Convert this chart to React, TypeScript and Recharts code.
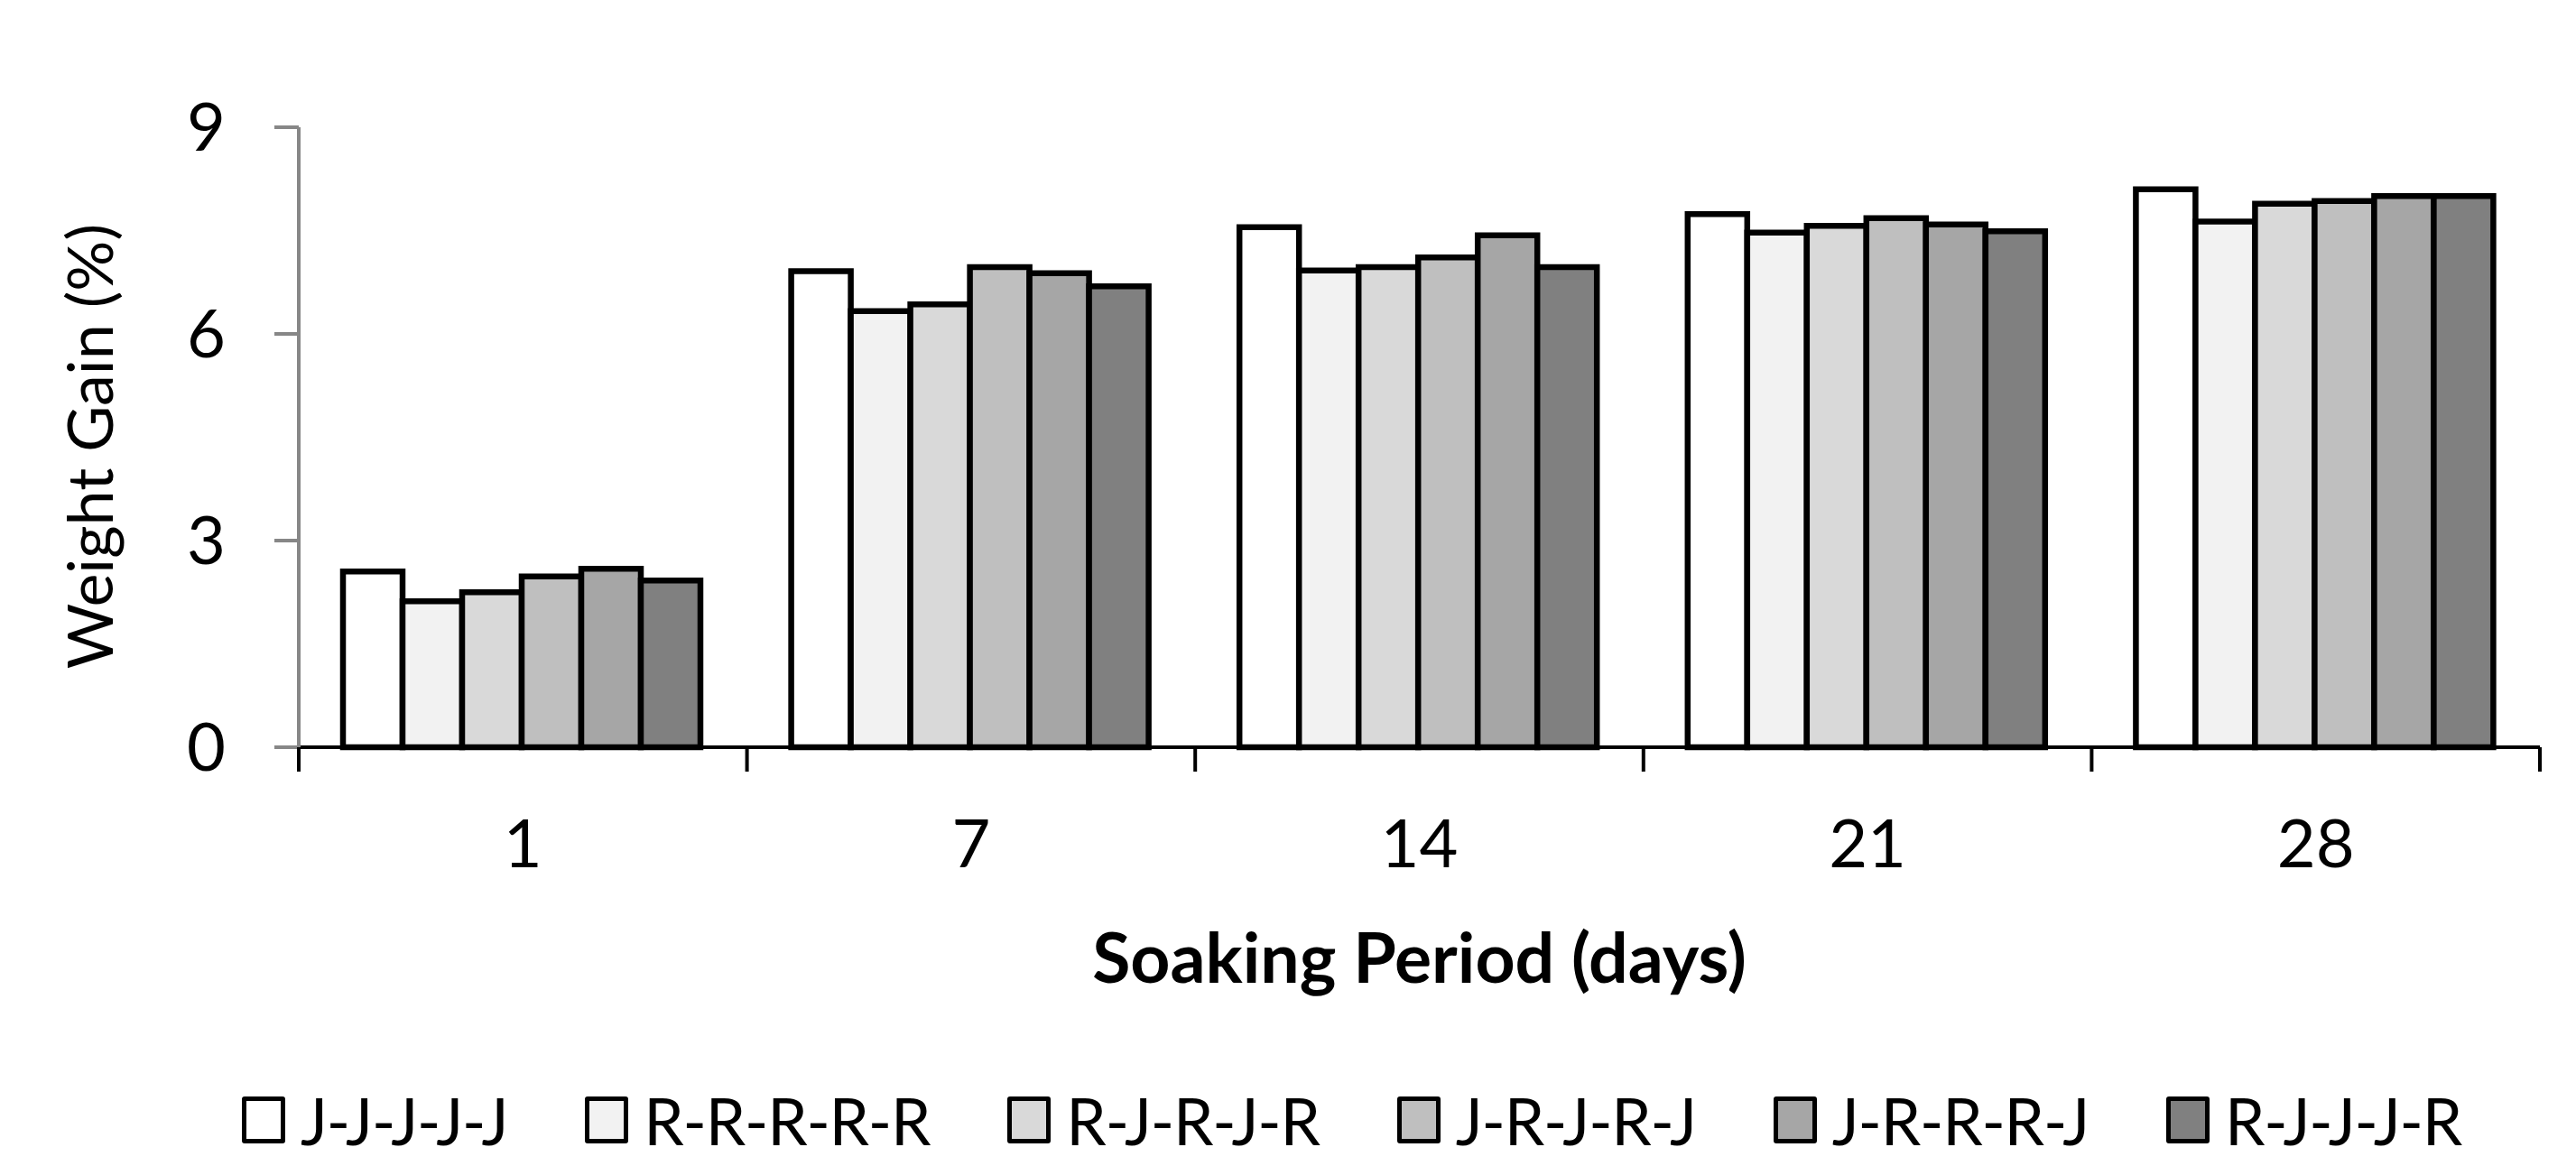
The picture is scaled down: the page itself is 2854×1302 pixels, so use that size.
import { BarChart, Bar, XAxis, YAxis, Legend, Label } from 'recharts'

const days = ['1', '7', '14', '21', '28']
const seriesNames = ['J-J-J-J-J', 'R-R-R-R-R', 'R-J-R-J-R', 'J-R-J-R-J', 'J-R-R-R-J', 'R-J-J-J-R']
const jjjjj = [2.55, 6.91, 7.55, 7.74, 8.1]
const rrrrr = [2.12, 6.33, 6.92, 7.47, 7.63]
const rjrjr = [2.25, 6.43, 6.97, 7.57, 7.89]
const jrjrj = [2.48, 6.97, 7.11, 7.68, 7.93]
const jrrrj = [2.59, 6.88, 7.43, 7.59, 8.0]
const rjjjr = [2.42, 6.69, 6.97, 7.49, 8.0]
const yTicks = [0, 3, 6, 9]

const fills = ['#ffffff', '#f2f2f2', '#d9d9d9', '#bfbfbf', '#a6a6a6', '#808080']
const seriesValues = [jjjjj, rrrrr, rjrjr, jrjrj, jrrrj, rjjjr]

const FONT = 'Lato, "Open Sans", sans-serif'

const XTitle = (props: any) => {
  const vb = props.viewBox
  return (
    <text x={vb.x + vb.width / 2} y={vb.y + 261} textAnchor="middle" fontFamily={FONT} fontWeight={700} fontSize={77} fill="#000">
      Soaking Period (days)
    </text>
  )
}

const YTitle = (props: any) => {
  const vb = props.viewBox
  const cx = vb.x + 117
  const cy = vb.y + vb.height / 2 + 10
  return (
    <text x={cx} y={cy} transform={`rotate(-90 ${cx} ${cy})`} textAnchor="middle" fontFamily={FONT} fontSize={70} fill="#000">
      Weight Gain (%)
    </text>
  )
}

// category tick: label at band centre, tick marks at the band edges
const DayTick = (props: any) => {
  const { x, y, payload, index } = props
  const half = payload.offset || 0
  const last = index === days.length - 1
  return (
    <g>
      <line x1={x - half} x2={x - half} y1={y} y2={y + 27} stroke="#000" strokeWidth={4} />
      {last && <line x1={x + half} x2={x + half} y1={y} y2={y + 27} stroke="#000" strokeWidth={4} />}
      <text x={x} y={y + 80} dy="0.71em" textAnchor="middle" fontFamily={FONT} fontSize={74} fill="#000">{payload.value}</text>
    </g>
  )
}

const renderLegend = (props: any) => {
  const items = [...(props.payload || [])].sort((a: any, b: any) => seriesNames.indexOf(a.value) - seriesNames.indexOf(b.value))
  return (
    <div style={{ height: 100, display: 'flex', alignItems: 'center', justifyContent: 'flex-start', paddingLeft: 260, boxSizing: 'border-box' }}>
      {items.map((it: any, i: number) => (
        <div key={i} style={{ display: 'flex', alignItems: 'center', marginLeft: i === 0 ? 0 : 86 }}>
          <div style={{ width: 38, height: 42, border: '5px solid #000', borderRadius: 3, background: it.color }} />
          <span style={{ marginLeft: 17, fontFamily: FONT, fontSize: 71, letterSpacing: -1.2, lineHeight: 1, color: '#000' }}>{it.value}</span>
        </div>
      ))}
    </div>
  )
}

export default function App() {
  const data = days.map((d, i) => {
    const row: any = { day: d }
    seriesNames.forEach((n, k) => { row[n] = seriesValues[k][i] })
    return row
  })

  return (
    <div style={{ width: 2838, height: 1286, background: '#fff', fontFamily: FONT }}>
      <BarChart width={2838} height={1286} data={data} margin={{ top: 133, right: 32, left: 0, bottom: 3 }} barCategoryGap={49} barGap={0}>
        <XAxis dataKey="day" axisLine={{ stroke: '#000', strokeWidth: 4 }} tickLine={false} tickSize={0} tickMargin={0} height={363} interval={0}
          tick={DayTick}>
          <Label content={XTitle} />
        </XAxis>
        <YAxis width={323} domain={[0, 9]} ticks={yTicks} tickSize={27} tickMargin={54}
          axisLine={{ stroke: '#878787', strokeWidth: 4 }} tickLine={{ stroke: '#878787', strokeWidth: 4 }}
          tick={{ fontSize: 74, fill: '#000', fontFamily: FONT }}>
          <Label content={YTitle} />
        </YAxis>
        <Legend verticalAlign="bottom" content={renderLegend} />
        {seriesNames.map((n, k) => (
          <Bar key={n} dataKey={n} name={n} fill={fills[k]} stroke="#000" strokeWidth={6.5} isAnimationActive={false} />
        ))}
      </BarChart>
    </div>
  )
}
